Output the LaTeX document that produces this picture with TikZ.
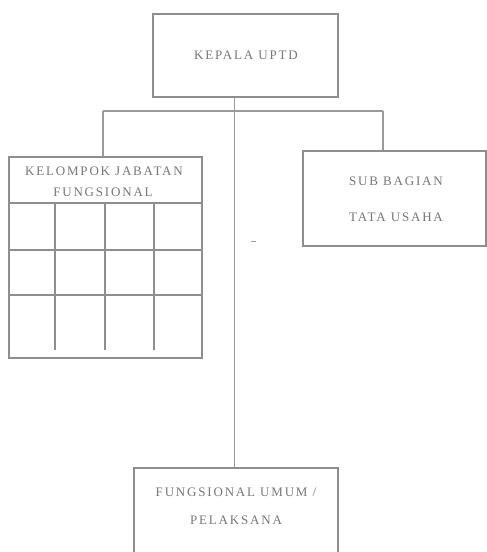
\documentclass[tikz,border=0pt]{standalone}
\usepackage{fontspec}
\setmainfont{Liberation Serif}[LetterSpace=14]
\begin{document}
\begin{tikzpicture}[x=1pt,y=-1pt,
  box/.style={draw=boxgray,line width=1.3pt,inner sep=0pt,anchor=center},
  lbl/.style={text=txtgray,font=\fontsize{13}{15}\selectfont,inner sep=0pt,align=center},
  link/.style={draw=linegray,line width=1.2pt},
  grid/.style={draw=boxgray,line width=1.2pt}]
\definecolor{boxgray}{HTML}{8E8E8E}
\definecolor{linegray}{HTML}{9A9A9A}
\definecolor{txtgray}{HTML}{777777}
\useasboundingbox[fill=white] (0,0) rectangle (487,552);

% head of the unit
\node[box,minimum width=185pt,minimum height=83pt] (kepala) at (245.5,55.5) {};
\node[lbl] (kepalatxt) at (246,55) {KEPALA UPTD};

% functional group box with its grid
\node[box,minimum width=193pt,minimum height=201pt] (kjf) at (105.5,257.5) {};
\node[lbl] (kjftxt1) at (104,171) {KELOMPOK JABATAN};
\node[lbl] (kjftxt2) at (103,192) {FUNGSIONAL};
\draw[grid] (kjf.west |- 0,203) -- (kjf.east |- 0,203);
\draw[grid] (kjf.west |- 0,250) -- (kjf.east |- 0,250);
\draw[grid] (kjf.west |- 0,295) -- (kjf.east |- 0,295);
\foreach \gx in {55,105,154} \draw[grid] (\gx,203) -- (\gx,350);

% administrative sub-division
\node[box,minimum width=183pt,minimum height=95pt] (sub) at (394.5,198.5) {};
\node[lbl] (subtxt1) at (396,181) {SUB BAGIAN};
\node[lbl] (subtxt2) at (396,217) {TATA USAHA};

% general staff box, running off the lower edge
\node[box,minimum width=204pt,minimum height=100pt] (umum) at (236,518) {};
\node[lbl] (umumtxt1) at (236,492) {FUNGSIONAL UMUM /};
\node[lbl] (umumtxt2) at (236,520) {PELAKSANA};

% connectors
\coordinate (bar)  at (234.5,111);
\coordinate (barL) at (103,111);
\coordinate (barR) at (383,111);
\draw[link] (kepala.south -| bar) -- (umum.north -| bar);
\draw[link] (barL) -- (barR);
\draw[link] (barL) -- (barL |- kjf.north);
\draw[link] (barR) -- (barR |- sub.north);

% small stray mark
\draw[linegray,line width=1pt] (251,241) -- (256,241);
\end{tikzpicture}
\end{document}
